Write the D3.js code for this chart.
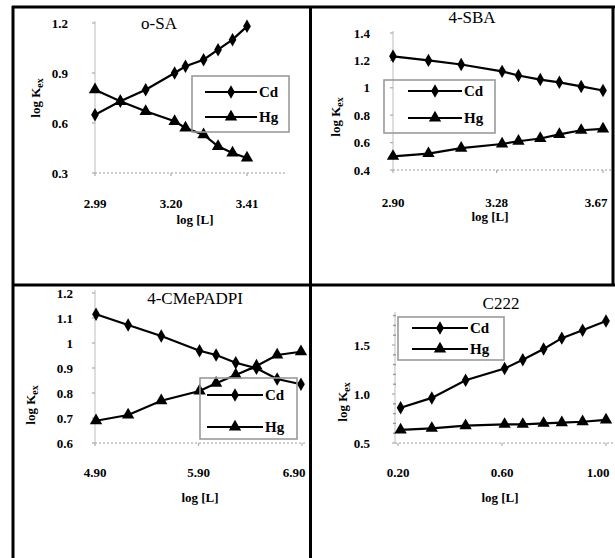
<!DOCTYPE html>
<html>
<head>
<meta charset="utf-8">
<script src="https://cdn.jsdelivr.net/npm/d3@7/dist/d3.min.js"></script>
<style>
  html, body { margin: 0; padding: 0; background: #fff; }
  svg { display: block; }
  text { font-family: "Liberation Serif", "Times New Roman", serif; fill: #000; }
</style>
</head>
<body>
<svg id="chart" width="615" height="558"></svg>
<script>
// ---- data -------------------------------------------------------------
const titles = ["o-SA", "4-SBA", "4-CMePADPI", "C222"];
const seriesNames = ["Cd", "Hg"];
const xAxisTitle = "log [L]";

// o-SA
const xOSA  = [2.99, 3.06, 3.13, 3.21, 3.24, 3.29, 3.33, 3.37, 3.41];
const cdOSA = [0.65, 0.73, 0.80, 0.90, 0.94, 0.98, 1.04, 1.10, 1.18];
const hgOSA = [0.80, 0.73, 0.67, 0.61, 0.57, 0.53, 0.46, 0.42, 0.39];
const xTicksOSA = [2.99, 3.20, 3.41];
const yTicksOSA = [0.3, 0.6, 0.9, 1.2];

// 4-SBA
const xSBA  = [2.90, 3.03, 3.15, 3.30, 3.36, 3.44, 3.51, 3.59, 3.67];
const cdSBA = [1.23, 1.20, 1.17, 1.12, 1.09, 1.06, 1.04, 1.01, 0.98];
const hgSBA = [0.50, 0.52, 0.56, 0.59, 0.61, 0.63, 0.66, 0.69, 0.70];
const xTicksSBA = [2.90, 3.28, 3.67];
const yTicksSBA = [0.4, 0.6, 0.8, 1.0, 1.2, 1.4];

// 4-CMePADPI
const xCMe  = [4.91, 5.22, 5.54, 5.91, 6.07, 6.26, 6.46, 6.66, 6.89];
const cdCMe = [1.115, 1.072, 1.028, 0.969, 0.952, 0.921, 0.899, 0.856, 0.835];
const hgCMe = [0.689, 0.712, 0.769, 0.808, 0.839, 0.872, 0.908, 0.952, 0.965];
const xTicksCMe = [4.90, 5.90, 6.90];
const yTicksCMe = [0.6, 0.7, 0.8, 0.9, 1.0, 1.1, 1.2];

// C222
const xC222  = [0.21, 0.33, 0.46, 0.61, 0.68, 0.76, 0.83, 0.91, 1.00];
const cdC222 = [0.86, 0.96, 1.14, 1.26, 1.35, 1.46, 1.57, 1.65, 1.745];
const hgC222 = [0.633, 0.650, 0.677, 0.691, 0.691, 0.701, 0.707, 0.717, 0.735];
const xTicksC222 = [0.20, 0.60, 1.00];
const yTicksC222 = [0.5, 1.0, 1.5];
const yMinorC222 = [0.6, 0.7, 0.8, 0.9, 1.1, 1.2, 1.3, 1.4, 1.6, 1.7, 1.8];

// spreadsheet-style "General" number format: 1 -> "1", 0.8 -> "0.8"
const general = d => String(+d.toFixed(3));
const fixed2 = d3.format(".2f");
const fixed1 = d3.format(".1f");

// ---- layout -----------------------------------------------------------
const panels = [
  { title: titles[0], x: xOSA, cd: cdOSA, hg: hgOSA, xTicks: xTicksOSA, yTicks: yTicksOSA,
    xDom: [2.99, 3.41], xRng: [95, 247], yDom: [0.3, 1.2], yRng: [173, 23],
    axisX: 95, axisTop: 21, plotRight: 287, xFmt: fixed2, yFmt: fixed1,
    yLabelRight: 68, xLabelY: 208, xLabelMax: 294,
    titlePos: [159, 29], yTitlePos: [40, 98], xTitlePos: [195, 224],
    legend: { x: 192, y: 76, w: 97, h: 56, r1: 92, r2: 117, lx: [205, 257] } },
  { title: titles[1], x: xSBA, cd: cdSBA, hg: hgSBA, xTicks: xTicksSBA, yTicks: yTicksSBA,
    xDom: [2.90, 3.67], xRng: [393, 603], yDom: [0.4, 1.4], yRng: [170, 33],
    axisX: 393, axisTop: 31, plotRight: 612, xFmt: fixed2, yFmt: general,
    yLabelRight: 370, xLabelY: 207, xLabelMax: 596,
    titlePos: [472, 23], yTitlePos: [340, 117], xTitlePos: [490, 221],
    legend: { x: 384, y: 80, w: 111, h: 53, r1: 91, r2: 118, lx: [408, 462] } },
  { title: titles[2], x: xCMe, cd: cdCMe, hg: hgCMe, xTicks: xTicksCMe, yTicks: yTicksCMe,
    xDom: [4.90, 6.90], xRng: [95, 302], yDom: [0.6, 1.2], yRng: [443, 293],
    axisX: 95, axisTop: 290, plotRight: 305, xFmt: fixed2, yFmt: general,
    yLabelRight: 73, xLabelY: 477, xLabelMax: 294,
    titlePos: [195, 304], yTitlePos: [35, 405], xTitlePos: [200, 502],
    legend: { x: 200, y: 378, w: 97, h: 61, r1: 395, r2: 427, lx: [207, 263] } },
  { title: titles[3], x: xC222, cd: cdC222, hg: hgC222, xTicks: xTicksC222, yTicks: yTicksC222,
    yMinor: yMinorC222,
    xDom: [0.20, 1.00], xRng: [398, 606], yDom: [0.5, 1.5], yRng: [443, 345],
    axisX: 395, axisTop: 312, plotRight: 614, xFmt: fixed2, yFmt: fixed1,
    yLabelRight: 370, xLabelY: 477, xLabelMax: 598,
    titlePos: [501, 309], yTitlePos: [347, 402], xTitlePos: [500, 502],
    legend: { x: 398, y: 317, w: 106, h: 43, r1: 328, r2: 349, lx: [412, 468] } }
];

const svg = d3.select("#chart");
const diamond = d3.symbol().type(d3.symbolDiamond).size(52);
const triangle = d3.symbol().type(d3.symbolTriangle).size(66);

panels.forEach(p => {
  const g = svg.append("g");
  const x = d3.scaleLinear().domain(p.xDom).range(p.xRng);
  const y = d3.scaleLinear().domain(p.yDom).range(p.yRng);
  const base = p.yRng[0];

  // axes: light grey vertical line, dotted baseline
  g.append("line").attr("x1", p.axisX).attr("x2", p.axisX)
    .attr("y1", p.axisTop).attr("y2", base)
    .attr("stroke", "#c8c8c8").attr("stroke-width", 1.2);
  g.append("line").attr("x1", p.axisX).attr("x2", p.plotRight)
    .attr("y1", base).attr("y2", base)
    .attr("stroke", "#bdbdbd").attr("stroke-width", 1.4)
    .attr("stroke-dasharray", "2,2");

  // y ticks and labels
  g.selectAll(".ytick").data(p.yTicks).join("line")
    .attr("x1", p.axisX - 3).attr("x2", p.axisX)
    .attr("y1", d => y(d)).attr("y2", d => y(d))
    .attr("stroke", "#aaa").attr("stroke-width", 1.2);
  if (p.yMinor) {
    g.selectAll(".yminor").data(p.yMinor).join("line")
      .attr("x1", p.axisX - 2).attr("x2", p.axisX + 1)
      .attr("y1", d => y(d)).attr("y2", d => y(d))
      .attr("stroke", "#999").attr("stroke-width", 1.4);
  }
  g.selectAll(".ylab").data(p.yTicks).join("text")
    .attr("x", p.yLabelRight).attr("y", d => y(d) + 4.5)
    .attr("text-anchor", "end").attr("font-size", 13).attr("font-weight", "bold")
    .text(d => p.yFmt(d));

  // x ticks and labels (kept inside each cell)
  g.selectAll(".xtick").data(p.xTicks).join("line")
    .attr("x1", d => x(d)).attr("x2", d => x(d))
    .attr("y1", base).attr("y2", base + 3)
    .attr("stroke", "#aaa").attr("stroke-width", 1.2);
  g.selectAll(".xlab").data(p.xTicks).join("text")
    .attr("x", d => Math.min(x(d), p.xLabelMax)).attr("y", p.xLabelY)
    .attr("text-anchor", "middle").attr("font-size", 13).attr("font-weight", "bold")
    .text(d => p.xFmt(d));

  // series
  const line = d3.line().x(d => x(d[0])).y(d => y(d[1]));
  const series = [
    { vals: p.cd, sym: diamond },
    { vals: p.hg, sym: triangle }
  ];
  series.forEach(s => {
    const pts = p.x.map((xv, i) => [xv, s.vals[i]]);
    g.append("path").datum(pts).attr("d", line)
      .attr("fill", "none").attr("stroke", "#000").attr("stroke-width", 2.2);
    g.selectAll(null).data(pts).join("path")
      .attr("transform", d => `translate(${x(d[0])},${y(d[1])})`)
      .attr("d", s.sym).attr("fill", "#000");
  });

  // legend
  const L = p.legend;
  g.append("rect").attr("x", L.x).attr("y", L.y).attr("width", L.w).attr("height", L.h)
    .attr("fill", "none").attr("stroke", "#9a9a9a").attr("stroke-width", 1.6);
  [[L.r1, diamond, seriesNames[0]], [L.r2, triangle, seriesNames[1]]].forEach(([ry, sym, name]) => {
    g.append("line").attr("x1", L.lx[0]).attr("x2", L.lx[1]).attr("y1", ry).attr("y2", ry)
      .attr("stroke", "#000").attr("stroke-width", 2.2);
    g.append("path").attr("transform", `translate(${(L.lx[0] + L.lx[1]) / 2},${ry})`)
      .attr("d", sym).attr("fill", "#000");
    g.append("text").attr("x", L.lx[1] + 2).attr("y", ry + 5)
      .attr("font-size", 15).attr("font-weight", "bold").text(name);
  });

  // titles
  g.append("text").attr("x", p.titlePos[0]).attr("y", p.titlePos[1])
    .attr("text-anchor", "middle").attr("font-size", 17).attr("fill", "#222")
    .text(p.title);
  const yt = g.append("text")
    .attr("transform", `translate(${p.yTitlePos[0]},${p.yTitlePos[1]}) rotate(-90)`)
    .attr("text-anchor", "middle").attr("font-size", 13).attr("font-weight", "bold");
  yt.append("tspan").text("log K");
  yt.append("tspan").attr("dy", 3).attr("font-size", 10).text("ex");
  g.append("text").attr("x", p.xTitlePos[0]).attr("y", p.xTitlePos[1])
    .attr("text-anchor", "middle").attr("font-size", 13).attr("font-weight", "bold")
    .text(xAxisTitle);
});

// table frame around the four charts
const frame = [
  [13, 6, 13, 558], [310.5, 6, 310.5, 558], [613, 6, 613, 285],
  [12, 7, 615, 7], [12, 285, 615, 285]
];
svg.selectAll(".frame").data(frame).join("line")
  .attr("x1", d => d[0]).attr("y1", d => d[1]).attr("x2", d => d[2]).attr("y2", d => d[3])
  .attr("stroke", "#000").attr("stroke-width", 3);
</script>
</body>
</html>
